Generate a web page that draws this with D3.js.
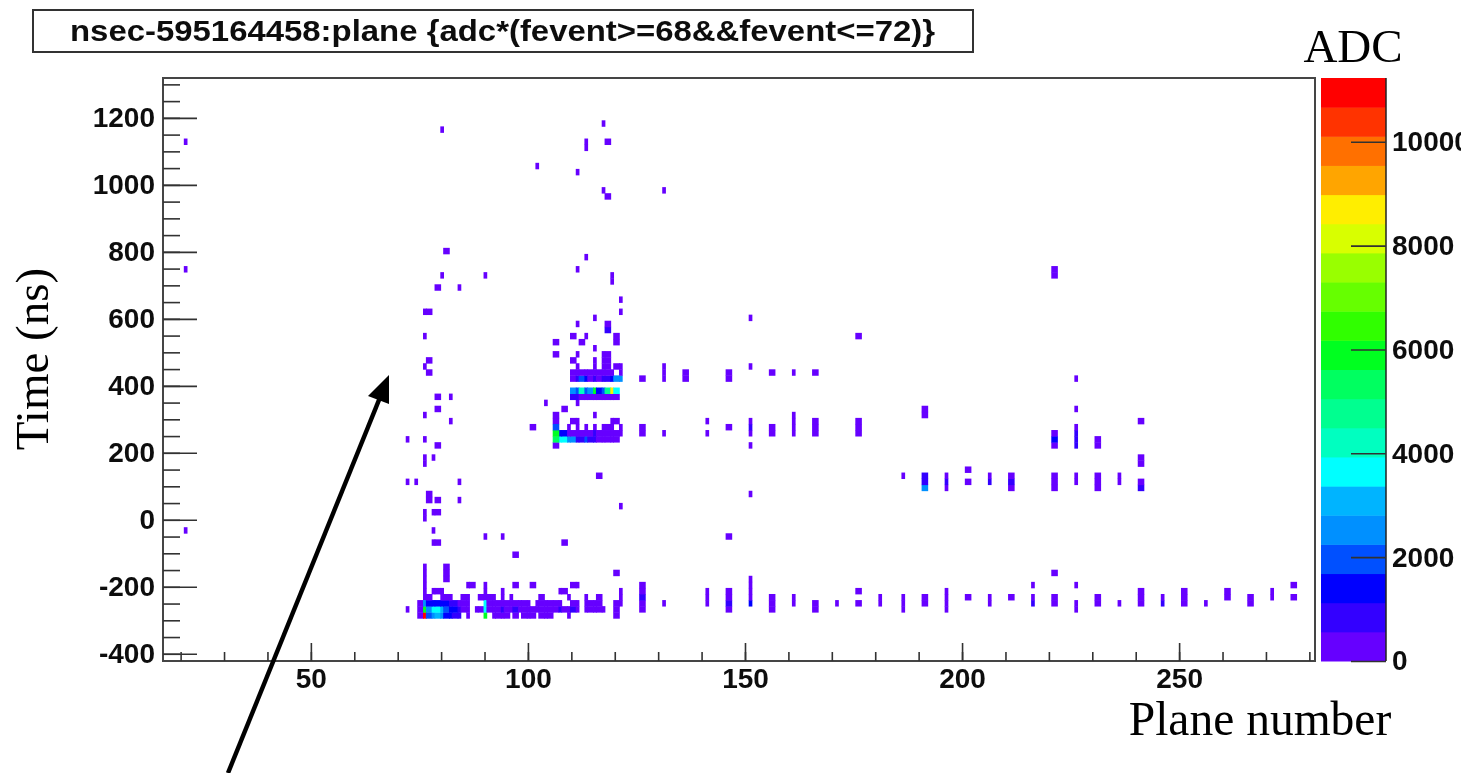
<!DOCTYPE html>
<html>
<head>
<meta charset="utf-8">
<title>nsec-595164458:plane</title>
<script src="https://cdn.jsdelivr.net/npm/d3@7/dist/d3.min.js"></script>
<style>
  html, body { margin: 0; background: #fff; overflow: hidden; }
  svg { display: block; }
  .sans { font-family: "Liberation Sans", Arial, sans-serif; font-weight: bold; fill: #111; }
  .serif { font-family: "Liberation Serif", "Times New Roman", serif; fill: #000; }
  .tick line { stroke: #333; stroke-width: 1.6; }
  .tick text { font-family: "Liberation Sans", Arial, sans-serif; font-weight: bold; font-size: 28px; fill: #111; }
</style>
</head>
<body>
<div id="chart"></div>
<script>
const titleText = "nsec-595164458:plane {adc*(fevent>=68&&fevent<=72)}";
const planeTicks = [50, 100, 150, 200, 250];
const timeTicks = [-400, -200, 0, 200, 400, 600, 800, 1000, 1200];
const adcTicks = [0, 2000, 4000, 6000, 8000, 10000];

// histogram binning: time bins are numbered from the bottom of the plot
const timeRange = [-421.5, 1319];
const timeBinCount = 96;
const adcMax = 11229;

// contour palette, low to high ADC
const palette = [
  "#6600ff", "#3300ff", "#0000ff", "#0050ff", "#0090ff", "#00b4ff", "#00ffff",
  "#00ffc0", "#00ff90", "#00ff60", "#00ff20", "#30ff00", "#66ff00", "#99ff00",
  "#d8ff00", "#ffee00", "#ffa500", "#ff7000", "#ff3300", "#ff0000"
];

// [plane, first time bin, last time bin], all in the lowest ADC band
const columnHits = [
  [21, 85, 85], [21, 64, 64], [21, 21, 21],
  [72, 36, 36], [72, 29, 29], [72, 8, 8], [74, 29, 29],
  [76, 57, 57], [76, 53, 53], [76, 48, 48], [76, 40, 40], [76, 36, 36], [76, 32, 33], [76, 23, 24], [76, 10, 15],
  [77, 57, 57], [77, 49, 49], [77, 47, 47], [77, 26, 27],
  [78, 33, 33], [78, 24, 24], [78, 21, 21], [78, 19, 19],
  [79, 61, 61], [79, 43, 43], [79, 41, 41], [79, 35, 35], [79, 26, 26], [79, 24, 24], [79, 19, 19],
  [80, 87, 87], [80, 63, 63], [81, 67, 67], [81, 13, 15], [82, 43, 43], [82, 39, 39],
  [84, 61, 61], [84, 29, 29], [84, 26, 26],
  [90, 63, 63], [90, 20, 20], [90, 10, 12], [94, 20, 20], [94, 10, 11], [96, 10, 10],
  [97, 17, 17], [97, 12, 12], [101, 38, 38], [101, 12, 12], [102, 81, 81], [103, 10, 10], [104, 42, 42],
  [106, 52, 52], [106, 50, 50], [106, 39, 40], [106, 35, 35], [107, 11, 11], [108, 41, 41], [108, 19, 19], [108, 11, 11],
  [109, 38, 38], [109, 10, 10], [110, 53, 53], [110, 49, 49], [110, 39, 39], [110, 12, 12],
  [111, 80, 80], [111, 64, 64], [111, 55, 55], [111, 50, 50], [111, 48, 48], [111, 42, 42], [111, 38, 39], [111, 12, 12],
  [112, 52, 52], [113, 84, 85], [113, 66, 66], [113, 53, 53], [113, 38, 38], [113, 10, 10],
  [115, 56, 56], [115, 51, 51], [115, 48, 49], [115, 40, 40], [115, 38, 38],
  [116, 30, 30], [116, 10, 10], [117, 88, 88], [117, 77, 77], [117, 49, 50], [117, 38, 38], [117, 48, 48],
  [118, 85, 85], [118, 76, 76], [118, 54, 55], [118, 48, 50], [118, 38, 38],
  [119, 62, 63], [119, 38, 39], [120, 52, 53], [120, 39, 39], [120, 48, 48], [120, 14, 14],
  [121, 59, 59], [121, 57, 57], [121, 46, 48], [121, 37, 38], [121, 25, 25], [121, 10, 11],
  [126, 46, 46], [126, 37, 38], [126, 8, 12], [131, 77, 77], [131, 46, 48], [131, 37, 37], [131, 9, 9],
  [136, 46, 47], [141, 37, 37], [141, 39, 39], [141, 9, 11],
  [146, 46, 47], [146, 38, 38], [146, 20, 20], [146, 8, 11],
  [151, 56, 56], [151, 48, 48], [151, 37, 39], [151, 35, 35], [151, 27, 27], [151, 9, 13],
  [156, 47, 47], [156, 37, 38], [156, 8, 10], [161, 47, 47], [161, 37, 40], [161, 9, 10],
  [166, 47, 47], [166, 37, 39], [166, 8, 9], [171, 9, 9],
  [176, 53, 53], [176, 37, 39], [176, 11, 11], [176, 9, 9], [181, 9, 10],
  [186, 30, 30], [186, 8, 10], [191, 40, 41], [191, 28, 30], [191, 9, 10],
  [196, 28, 30], [196, 8, 11], [201, 31, 31], [201, 29, 29], [201, 10, 10],
  [206, 29, 30], [206, 9, 10], [211, 28, 30], [211, 10, 10], [216, 12, 12], [216, 9, 10],
  [221, 63, 64], [221, 35, 37], [221, 28, 30], [221, 14, 14], [221, 9, 10],
  [226, 46, 46], [226, 41, 41], [226, 35, 38], [226, 29, 30], [226, 12, 12], [226, 8, 9],
  [231, 35, 36], [231, 28, 30], [231, 9, 10], [236, 29, 30], [236, 9, 9],
  [241, 39, 39], [241, 32, 33], [241, 28, 29], [241, 9, 11], [246, 9, 10],
  [251, 9, 11], [256, 9, 9], [261, 10, 11], [266, 9, 10], [271, 10, 11], [276, 12, 12], [276, 10, 10]
];

// [first plane, last plane, time bin], the dense horizontal stretches
const rowHits = [
  [75, 84, 7], [86, 86, 7], [90, 90, 7], [92, 95, 7], [97, 97, 7], [99, 101, 7], [103, 105, 7], [109, 109, 7], [120, 120, 7],
  [75, 86, 8], [88, 111, 8], [113, 117, 8], [120, 120, 8],
  [75, 86, 9], [90, 100, 9], [102, 107, 9], [110, 111, 9], [113, 116, 9], [120, 121, 9],
  [76, 77, 10], [80, 82, 10], [85, 86, 10], [89, 92, 10],
  [78, 80, 11], [86, 87, 12],
  [107, 120, 36], [107, 121, 37], [110, 120, 43], [110, 120, 44], [110, 121, 46], [110, 119, 47], [121, 121, 47]
];

// [plane, time bin, ADC], cells brighter than the lowest band
const brightHits = [
  [76, 7, 11000], [77, 7, 2000], [78, 7, 2800], [79, 7, 3300], [80, 7, 2500], [81, 7, 1500], [82, 7, 1400], [83, 7, 1000], [84, 7, 800], [90, 7, 6000],
  [76, 8, 6000], [77, 8, 2400], [78, 8, 3700], [79, 8, 3800], [80, 8, 2900], [81, 8, 2000], [82, 8, 1400], [83, 8, 1400], [84, 8, 900], [90, 8, 3600],
  [94, 8, 800], [97, 8, 800], [107, 8, 800], [110, 8, 800],
  [76, 9, 2400], [77, 9, 1500], [78, 9, 1400], [79, 9, 1400], [80, 9, 1200], [81, 9, 1200], [82, 9, 800], [83, 9, 800], [90, 9, 3800],
  [126, 10, 800], [146, 9, 800], [151, 9, 1300], [216, 9, 900], [246, 9, 1000],
  [106, 36, 5400], [106, 37, 6000], [106, 38, 1800],
  [107, 36, 3600], [108, 36, 3800], [109, 36, 2800], [110, 36, 2400], [111, 36, 1000], [112, 36, 1000], [113, 36, 2000], [114, 36, 800], [115, 36, 800],
  [107, 37, 1300], [108, 37, 1300], [115, 37, 800],
  [110, 44, 2600], [111, 44, 1800], [112, 44, 4400], [113, 44, 1800], [114, 44, 2600], [115, 44, 6000], [116, 44, 1500], [117, 44, 2000], [118, 44, 4800], [119, 44, 8800], [120, 44, 3800],
  [110, 43, 900], [111, 43, 800],
  [111, 46, 800], [112, 46, 1800], [113, 46, 1200], [115, 46, 800], [117, 46, 1000], [118, 46, 800], [119, 46, 1300], [120, 46, 2600], [121, 46, 2400],
  [118, 54, 800], [151, 38, 700],
  [221, 36, 1300], [226, 35, 900], [226, 36, 1000], [226, 37, 900],
  [191, 28, 2600], [191, 29, 1000], [191, 30, 800], [196, 29, 700], [206, 29, 800], [211, 29, 800], [241, 28, 800]
];

const W = 1461, H = 773;
const frame = { left: 163, right: 1315, top: 78, bottom: 661 };
const barFrame = { left: 1321, right: 1386 };

const svg = d3.select("#chart").append("svg").attr("width", W).attr("height", H);

const defs = svg.append("defs");
// the source is a small screenshot scaled up, everything sits a little soft
[["soft", 0.55], ["softText", 0.35]].forEach(([id, s]) => {
  defs.append("filter").attr("id", id)
    .attr("filterUnits", "userSpaceOnUse")
    .attr("x", 0).attr("y", 0).attr("width", W).attr("height", H)
    .append("feGaussianBlur").attr("stdDeviation", s);
});

const x = d3.scaleLinear().domain([15.94, 281.3]).range([frame.left, frame.right]);
const y = d3.scaleLinear().domain(timeRange).range([frame.bottom, frame.top]);
const z = d3.scaleLinear().domain([0, adcMax]).range([frame.bottom, frame.top]);
const color = d3.scaleQuantize().domain([0, adcMax]).range(palette);

const binNs = (timeRange[1] - timeRange[0]) / timeBinCount;
const binEdge = b => timeRange[0] + b * binNs;

// plane bins landed on whole screen pixels of the source, so they alternate narrow and wide
const srcPx = 2.882;
const planeShift = -0.2;
const snapOrigin = x(105.8);
const snapX = p => {
  const v = x(p + planeShift);
  return snapOrigin + Math.round((v - snapOrigin) / srcPx) * srcPx;
};
const cellPad = 0.4;

// merge the lists into one cell per plane and time bin
const cells = new Map();
const put = (p, b, adc) => cells.set(`${p}:${b}`, { plane: p, bin: b, adc });
columnHits.forEach(([p, b0, b1]) => d3.range(b0, b1 + 1).forEach(b => put(p, b, 250)));
rowHits.forEach(([p0, p1, b]) => d3.range(p0, p1 + 1).forEach(p => put(p, b, 250)));
brightHits.forEach(([p, b, adc]) => put(p, b, adc));

svg.append("g").attr("filter", "url(#soft)")
  .selectAll("rect")
  .data([...cells.values()])
  .join("rect")
  .attr("x", d => snapX(d.plane) - cellPad)
  .attr("width", d => snapX(d.plane + 1) - snapX(d.plane) + 2 * cellPad)
  .attr("y", d => y(binEdge(d.bin + 1)) - 0.2)
  .attr("height", d => y(binEdge(d.bin)) - y(binEdge(d.bin + 1)) + 0.4)
  .attr("fill", d => color(d.adc));

// colour bar
const bandSize = adcMax / palette.length;
svg.append("g").selectAll("rect")
  .data(palette)
  .join("rect")
  .attr("x", barFrame.left)
  .attr("width", barFrame.right - barFrame.left)
  .attr("y", (d, i) => z((i + 1) * bandSize))
  .attr("height", z(0) - z(bandSize) + 0.5)
  .attr("fill", d => d);

const axes = svg.append("g").attr("filter", "url(#softText)");

axes.append("rect")
  .attr("x", 33).attr("y", 10).attr("width", 940).attr("height", 42)
  .attr("fill", "none").attr("stroke", "#333").attr("stroke-width", 2);
axes.append("text").attr("class", "sans")
  .attr("x", 70).attr("y", 41)
  .attr("font-size", 29)
  .attr("textLength", 865).attr("lengthAdjust", "spacingAndGlyphs")
  .text(titleText);

axes.append("rect")
  .attr("x", frame.left).attr("y", frame.top)
  .attr("width", frame.right - frame.left).attr("height", frame.bottom - frame.top)
  .attr("fill", "none").attr("stroke", "#444").attr("stroke-width", 2);

const noDomain = g => g.call(s => s.select(".domain").remove());

axes.append("g").attr("transform", `translate(0,${frame.bottom})`)
  .call(d3.axisBottom(x).tickValues(d3.range(20, 281, 10)).tickSize(-9).tickFormat(""))
  .call(noDomain);
axes.append("g").attr("transform", `translate(0,${frame.bottom})`)
  .call(d3.axisBottom(x).tickValues(planeTicks).tickSize(-18).tickPadding(7).tickFormat(String))
  .call(noDomain);

axes.append("g").attr("transform", `translate(${frame.left},0)`)
  .call(d3.axisLeft(y).tickValues(d3.range(-400, 1301, 50)).tickSize(-17).tickFormat(""))
  .call(noDomain);
axes.append("g").attr("transform", `translate(${frame.left},0)`)
  .call(d3.axisLeft(y).tickValues(timeTicks).tickSize(-34).tickPadding(8).tickFormat(String))
  .call(noDomain);

const zAxis = axes.append("g").attr("transform", `translate(${barFrame.right},0)`)
  .call(d3.axisRight(z).tickValues(adcTicks).tickSize(-35).tickPadding(6).tickFormat(String));
zAxis.select(".domain").attr("stroke", "#222").attr("stroke-width", 1.5).attr("d", `M0,${frame.top}V${frame.bottom}`);
zAxis.selectAll(".tick line").attr("stroke", "#111");

// axis titles were typed on the slide afterwards, in a serif face
svg.append("text").attr("class", "serif")
  .attr("x", 1353).attr("y", 62).attr("text-anchor", "middle")
  .attr("font-size", 47).text("ADC");
svg.append("text").attr("class", "serif")
  .attr("x", 1260).attr("y", 735).attr("text-anchor", "middle")
  .attr("font-size", 47.5).text("Plane number");
svg.append("text").attr("class", "serif")
  .attr("transform", "translate(48,359) rotate(-90)").attr("text-anchor", "middle")
  .attr("font-size", 47).text("Time (ns)");

// slide arrow pointing at the scatter
svg.append("line")
  .attr("x1", 228).attr("y1", 773).attr("x2", 381).attr("y2", 395)
  .attr("stroke", "#000").attr("stroke-width", 4.5);
svg.append("path")
  .attr("d", "M389,375L368,396L389,404Z")
  .attr("fill", "#000");
</script>
</body>
</html>
